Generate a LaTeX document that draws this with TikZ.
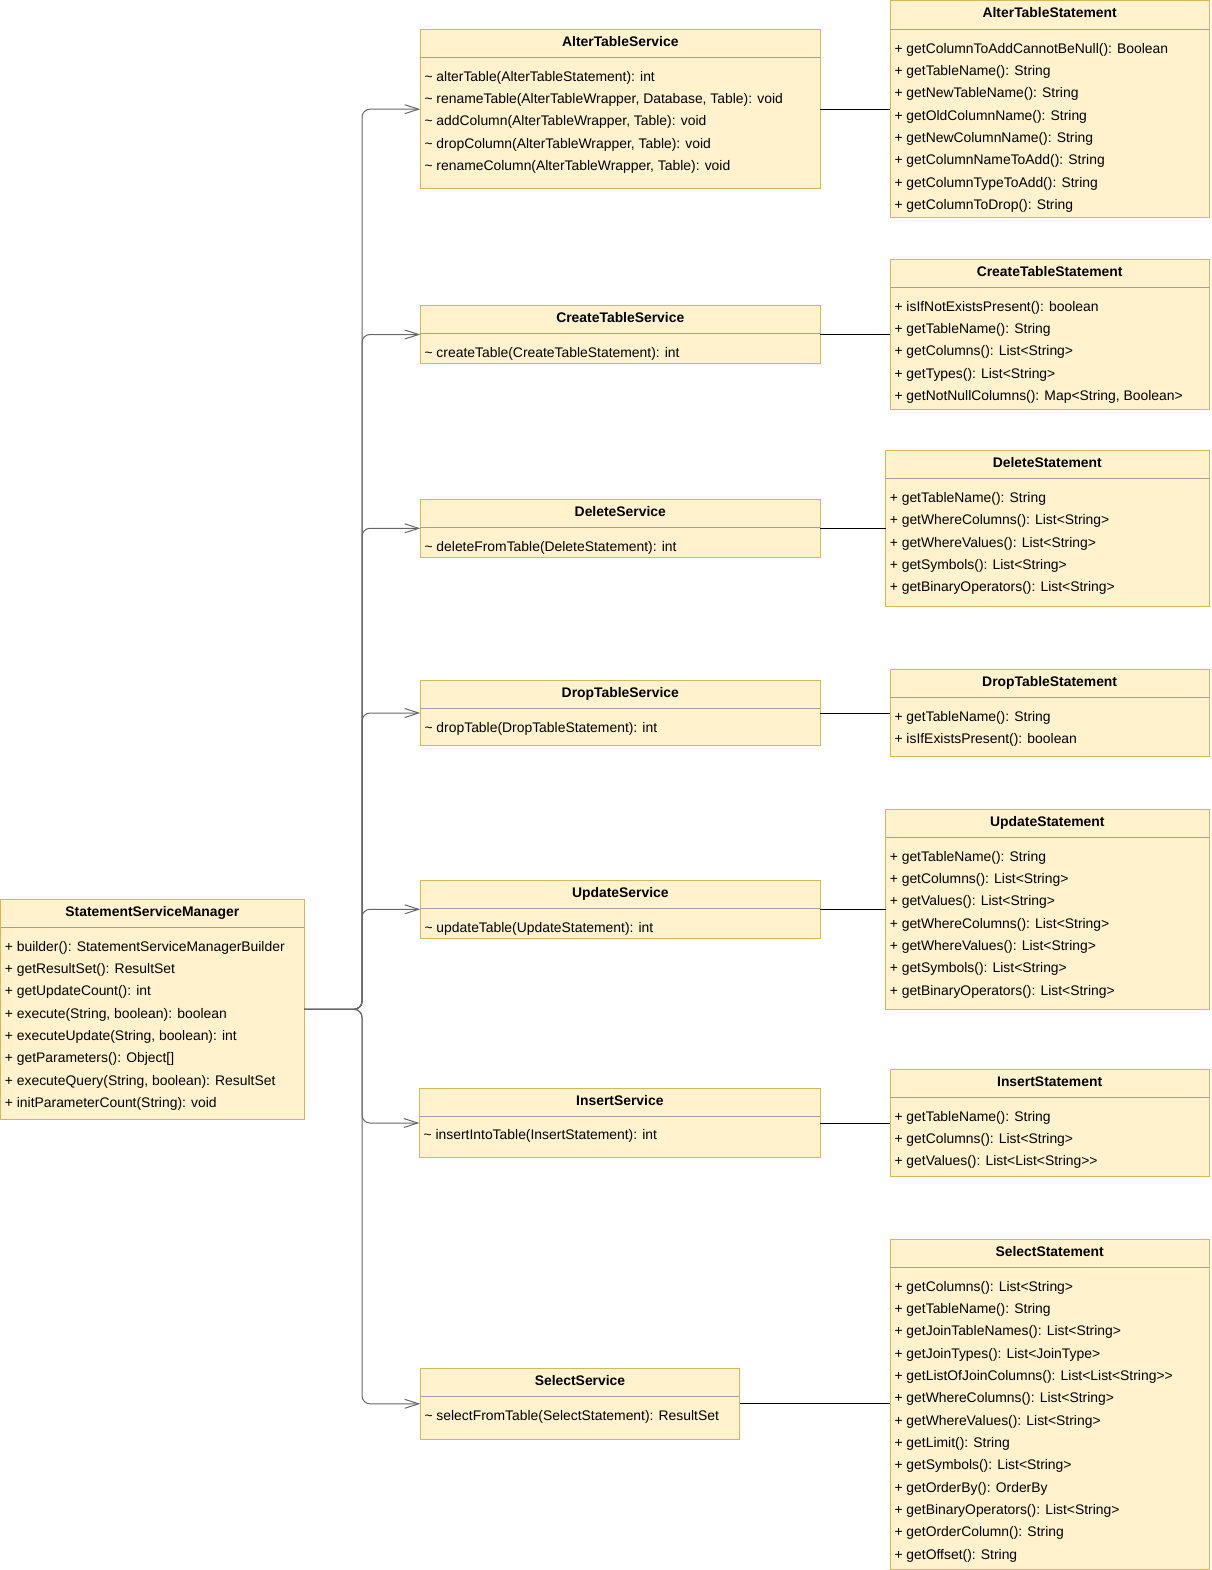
\documentclass[tikz,border=0pt]{standalone}
\usepackage{fontspec}
\setmainfont{Liberation Sans}
\usetikzlibrary{arrows.meta}
\definecolor{boxfill}{HTML}{FFF2CC}
\definecolor{boxdraw}{HTML}{D6B656}
\definecolor{sepgray}{HTML}{A0A0A0}
\definecolor{conngray}{HTML}{666666}
\newcommand{\umltilde}{\textasciitilde}
\tikzset{
  classbox/.style={draw=boxdraw, fill=boxfill, line width=1pt, inner sep=0pt, outer sep=0pt},
  titletext/.style={anchor=base, inner sep=0pt, font=\bfseries\fontsize{13.9}{16}\selectfont},
  rowtext/.style={anchor=base west, inner sep=0pt, font=\fontsize{13.9}{16}\selectfont},
  sepline/.style={draw=sepgray, line width=1pt},
  conn/.style={draw=conngray, line width=1pt, rounded corners=8pt, -{Straight Barb[length=14pt,width=9pt]}},
  assoc/.style={draw=black, line width=1pt}
}
% #1 name, #2 left, #3 top, #4 right, #5 bottom, #6 separator y, #7 title, #8 rows
\newcommand{\umlbox}[8]{%
  \node[classbox, minimum width={#4-#2}, minimum height={#5-#3}, anchor=north west] (#1) at (#2,#3) {};
  \node[titletext] (#1-title) at ({(#2+#4)/2}, {#3+17}) {#7};
  \draw[sepline] (#2,#6) -- (#4,#6);
  \foreach \rowtxt [count=\i from 0] in {#8} {
    \node[rowtext] (#1-row\i) at ({#2+4}, {#6+18.8+5+22.35*\i}) {\rowtxt};
  }%
}
\begin{document}
\begin{tikzpicture}[x=1pt, y=-1pt]
\useasboundingbox (0,0) rectangle (1211,1570);

\umlbox{ssm}{0.7}{899.3}{304}{1119.3}{927.3}{StatementServiceManager}{%
  {+ builder(): StatementServiceManagerBuilder},
  {+ getResultSet(): ResultSet},
  {+ getUpdateCount(): int},
  {+ execute(String, boolean): boolean},
  {+ executeUpdate(String, boolean): int},
  {+ getParameters(): Object[]},
  {+ executeQuery(String, boolean): ResultSet},
  {+ initParameterCount(String): void}}

\umlbox{ats}{420.3}{29.7}{820.3}{188.7}{57.3}{AlterTableService}{%
  {\umltilde{} alterTable(AlterTableStatement): int},
  {\umltilde{} renameTable(AlterTableWrapper, Database, Table): void},
  {\umltilde{} addColumn(AlterTableWrapper, Table): void},
  {\umltilde{} dropColumn(AlterTableWrapper, Table): void},
  {\umltilde{} renameColumn(AlterTableWrapper, Table): void}}

\umlbox{atst}{890.3}{1}{1209}{217.7}{29.3}{AlterTableStatement}{%
  {+ getColumnToAddCannotBeNull(): Boolean},
  {+ getTableName(): String},
  {+ getNewTableName(): String},
  {+ getOldColumnName(): String},
  {+ getNewColumnName(): String},
  {+ getColumnNameToAdd(): String},
  {+ getColumnTypeToAdd(): String},
  {+ getColumnToDrop(): String}}

\umlbox{cts}{420.3}{305.7}{820.3}{363.3}{333.3}{CreateTableService}{%
  {\umltilde{} createTable(CreateTableStatement): int}}

\umlbox{ctst}{890.3}{259.3}{1209}{409.3}{287.3}{CreateTableStatement}{%
  {+ isIfNotExistsPresent(): boolean},
  {+ getTableName(): String},
  {+ getColumns(): List<String>},
  {+ getTypes(): List<String>},
  {+ getNotNullColumns(): Map<String, Boolean>}}

\umlbox{dels}{420.3}{499.3}{820.3}{557.3}{527.3}{DeleteService}{%
  {\umltilde{} deleteFromTable(DeleteStatement): int}}

\umlbox{delst}{885.6}{450}{1209}{606.7}{478.7}{DeleteStatement}{%
  {+ getTableName(): String},
  {+ getWhereColumns(): List<String>},
  {+ getWhereValues(): List<String>},
  {+ getSymbols(): List<String>},
  {+ getBinaryOperators(): List<String>}}

\umlbox{drops}{420.3}{680.3}{820.3}{745.7}{708.7}{DropTableService}{%
  {\umltilde{} dropTable(DropTableStatement): int}}

\umlbox{dropst}{890.3}{669.3}{1209}{756.7}{697.3}{DropTableStatement}{%
  {+ getTableName(): String},
  {+ isIfExistsPresent(): boolean}}

\umlbox{upds}{420.3}{880.3}{820.3}{938.3}{908.7}{UpdateService}{%
  {\umltilde{} updateTable(UpdateStatement): int}}

\umlbox{updst}{885.6}{809.7}{1209}{1009.3}{837.3}{UpdateStatement}{%
  {+ getTableName(): String},
  {+ getColumns(): List<String>},
  {+ getValues(): List<String>},
  {+ getWhereColumns(): List<String>},
  {+ getWhereValues(): List<String>},
  {+ getSymbols(): List<String>},
  {+ getBinaryOperators(): List<String>}}

\umlbox{inss}{419.4}{1088.3}{820.3}{1157.7}{1116}{InsertService}{%
  {\umltilde{} insertIntoTable(InsertStatement): int}}

\umlbox{insst}{890.3}{1069.3}{1209}{1176}{1097.3}{InsertStatement}{%
  {+ getTableName(): String},
  {+ getColumns(): List<String>},
  {+ getValues(): List<List<String>{}>}}

\umlbox{sels}{420.3}{1368.3}{739.7}{1439.3}{1396.5}{SelectService}{%
  {\umltilde{} selectFromTable(SelectStatement): ResultSet}}

\umlbox{selst}{890.3}{1239.3}{1209}{1569}{1267.3}{SelectStatement}{%
  {+ getColumns(): List<String>},
  {+ getTableName(): String},
  {+ getJoinTableNames(): List<String>},
  {+ getJoinTypes(): List<JoinType>},
  {+ getListOfJoinColumns(): List<List<String>{}>},
  {+ getWhereColumns(): List<String>},
  {+ getWhereValues(): List<String>},
  {+ getLimit(): String},
  {+ getSymbols(): List<String>},
  {+ getOrderBy(): OrderBy},
  {+ getBinaryOperators(): List<String>},
  {+ getOrderColumn(): String},
  {+ getOffset(): String}}

% trunk
\coordinate (trunk) at (362,0);
\foreach \s in {ats,cts,dels,drops,upds,inss,sels}
  \draw[conn] (ssm.east) -- (trunk |- ssm.east) -- (trunk |- \s.west) -- (\s.west);

% associations
\foreach \a/\b in {ats/atst,cts/ctst,dels/delst,drops/dropst,upds/updst,inss/insst,sels/selst}
  \draw[assoc] (\a.east) -- (\a.east -| \b.west);
\end{tikzpicture}
\end{document}
